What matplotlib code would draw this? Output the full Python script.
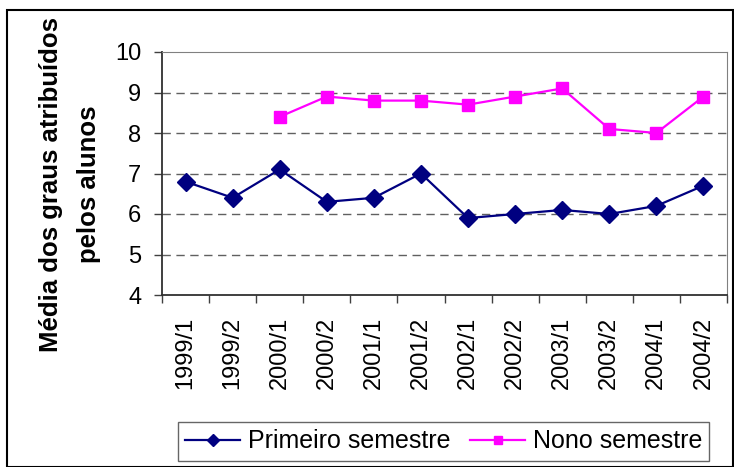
import numpy as np
import matplotlib
matplotlib.use("Agg")
import matplotlib.pyplot as plt
from matplotlib.patches import Rectangle

plt.rcParams['font.family'] = ['Liberation Sans', 'DejaVu Sans']

# data
periods = ["1999/1", "1999/2", "2000/1", "2000/2", "2001/1", "2001/2",
           "2002/1", "2002/2", "2003/1", "2003/2", "2004/1", "2004/2"]
primeiro = [6.8, 6.4, 7.1, 6.3, 6.4, 7.0, 5.9, 6.0, 6.1, 6.0, 6.2, 6.7]
nono = [np.nan, np.nan, 8.4, 8.9, 8.8, 8.8, 8.7, 8.9, 9.1, 8.1, 8.0, 8.9]
yticks = [4, 5, 6, 7, 8, 9, 10]

W, H = 734, 467
fig = plt.figure(figsize=(W / 100, H / 100), dpi=100)
ax = fig.add_axes([162 / W, 1 - 295 / H, (727 - 162) / W, (295 - 52) / H])

x = np.arange(len(periods))
ax.plot(x, primeiro, color="#000080", marker="D", markersize=9, lw=1.6,
        label="Primeiro semestre")
ax.plot(x, nono, color="#FF00FF", marker="s", markersize=9, lw=1.6,
        label="Nono semestre")

ax.set_xlim(-0.5, len(periods) - 0.5)
ax.set_ylim(4, 10)
ax.set_yticks(yticks)
ax.set_xticks(x)
ax.set_xticklabels(periods, rotation=90, fontsize=17)
ax.set_xticks(np.arange(-0.5, len(periods)), minor=True)
ax.tick_params(axis="x", which="major", length=0, pad=16)
ax.tick_params(axis="x", which="minor", length=6, width=1, color="#404040", direction="out")
ax.tick_params(axis="y", labelsize=17, length=6, width=1, color="#404040", pad=9)

for v in yticks[1:-1]:
    ax.axhline(v, color="#606060", lw=1, ls=(0, (6, 4)), zorder=0)

ax.spines["left"].set_color("#303030")
ax.spines["bottom"].set_color("#303030")
ax.spines["left"].set_linewidth(1.3)
ax.spines["bottom"].set_linewidth(1.3)
ax.spines["top"].set_color("#808080")
ax.spines["right"].set_color("#808080")

fig.text(51 / W, 1 - 184 / H, "Média dos graus atribuídos", rotation=90,
         fontsize=18.5, fontweight="bold", ha="center", va="center")
fig.text(89 / W, 1 - 184 / H, "pelos alunos", rotation=90,
         fontsize=18.5, fontweight="bold", ha="center", va="center")

leg = fig.legend(loc="center", bbox_to_anchor=(443.5 / W, 1 - 441.5 / H), ncol=2,
                 fontsize=18, frameon=True, fancybox=False, edgecolor="#404040",
                 handlelength=2.2, handletextpad=0.3, columnspacing=0.8,
                 borderpad=0.3, borderaxespad=0, markerscale=0.65)
leg.get_frame().set_linewidth(1)

fig.patches.append(Rectangle((7 / W, 0), (733 - 7) / W, 1 - 10 / H,
                             transform=fig.transFigure, fill=False,
                             edgecolor="black", lw=1.5))

fig.savefig("out.png", dpi=100)
